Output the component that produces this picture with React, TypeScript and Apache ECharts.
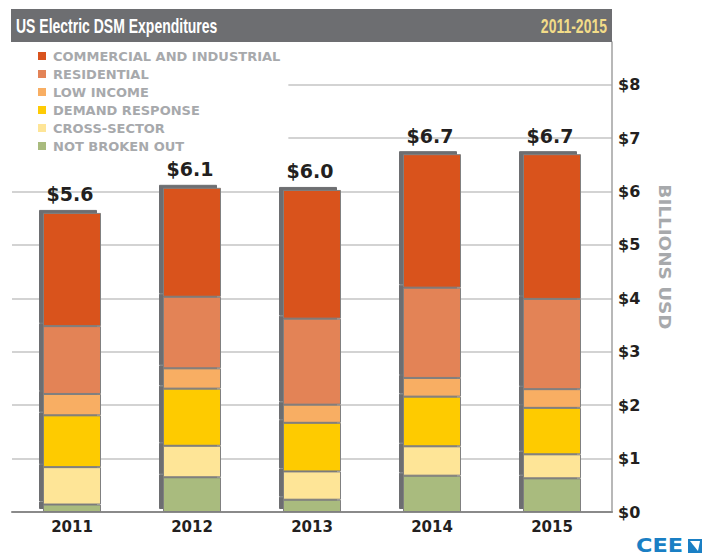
import React, { useEffect, useRef } from "react";
import * as echarts from "echarts";

const years = ["2011", "2012", "2013", "2014", "2015"];
const notBrokenOut = [0.14, 0.65, 0.23, 0.68, 0.63];
const crossSector = [0.7, 0.59, 0.53, 0.55, 0.45];
const demandResponse = [0.97, 1.07, 0.91, 0.93, 0.87];
const lowIncome = [0.4, 0.38, 0.34, 0.35, 0.35];
const residential = [1.27, 1.34, 1.61, 1.69, 1.69];
const commercialIndustrial = [2.12, 2.04, 2.41, 2.5, 2.71];
const totalLabels = ["$5.6", "$6.1", "$6.0", "$6.7", "$6.7"];

const seriesDefs = [
  { name: "NOT BROKEN OUT", data: notBrokenOut, color: "#a9bb7e" },
  { name: "CROSS-SECTOR", data: crossSector, color: "#fee597" },
  { name: "DEMAND RESPONSE", data: demandResponse, color: "#fecb05" },
  { name: "LOW INCOME", data: lowIncome, color: "#f8ae63" },
  { name: "RESIDENTIAL", data: residential, color: "#e38357" },
  { name: "COMMERCIAL AND INDUSTRIAL", data: commercialIndustrial, color: "#d9531e" },
];

const titleText = "US Electric DSM Expenditures";
const periodText = "2011-2015";
const axisTitle = "BILLIONS USD";

const BOLD = "'DejaVu Sans', 'Noto Sans', sans-serif";
const TITLE_FONT = "'Liberation Sans', Arial, sans-serif";

export default function App() {
  const ref = useRef<HTMLDivElement>(null);
  useEffect(() => {
    if (!ref.current) return;
    const chart = echarts.init(ref.current, undefined, { renderer: "svg" });
    const series: any[] = seriesDefs.map((s, i) => ({
      name: s.name,
      type: "bar",
      stack: "total",
      data: s.data,
      barWidth: 58,
      itemStyle: {
        color: s.color,
        borderColor: "#808080",
        borderWidth: 1,
        shadowColor: "#6d6e71",
        shadowBlur: 0,
        shadowOffsetX: -4,
        shadowOffsetY: -3,
      },
      label:
        i === seriesDefs.length - 1
          ? {
              show: true,
              position: "top",
              distance: 9,
              offset: [-2, 0],
              formatter: (p: any) => totalLabels[p.dataIndex],
              color: "#231f20",
              fontFamily: BOLD,
              fontWeight: "bold",
              fontSize: 19,
            }
          : { show: false },
      emphasis: { disabled: true },
    }));

    chart.setOption({
      animation: false,
      grid: { left: 12, right: 91, top: 42, bottom: 44, containLabel: false },
      legend: {
        orient: "vertical",
        left: 12,
        top: 45,
        padding: [4, 8, 4, 26],
        backgroundColor: "#ffffff",
        itemWidth: 8,
        itemHeight: 8,
        itemGap: 4,
        icon: "rect",
        itemStyle: { borderWidth: 0, shadowBlur: 0, shadowOffsetX: 0, shadowOffsetY: 0 },
        data: seriesDefs.map((s) => s.name).reverse(),
        selectedMode: false,
        textStyle: {
          color: "#a7a9ac",
          fontFamily: BOLD,
          fontWeight: "bold",
          fontSize: 13,
          lineHeight: 14,
          padding: [0, 0, 0, 2],
        },
      },
      xAxis: {
        type: "category",
        data: years,
        axisTick: { show: false },
        axisLine: { lineStyle: { color: "#8a8a8a", width: 2 } },
        axisLabel: {
          color: "#231f20",
          fontFamily: BOLD,
          fontWeight: "bold",
          fontSize: 15,
          margin: 7,
          offset: [-2, 0],
        },
      },
      yAxis: {
        type: "value",
        position: "right",
        min: 0,
        max: 8.8,
        interval: 1,
        axisLine: { show: true, lineStyle: { color: "#a0a0a0", width: 1.5 } },
        axisTick: { show: false },
        splitLine: { show: true, showMaxLine: false, lineStyle: { color: "#c4c4c4", width: 1.5 } },
        axisLabel: {
          showMaxLabel: false,
          margin: 6,
          color: "#231f20",
          fontFamily: BOLD,
          fontWeight: "bold",
          fontSize: 16,
          padding: [0, 0, 5, 0],
          formatter: (v: number) => "$" + v,
        },
      },
      graphic: [
        {
          type: "rect",
          z: 100,
          shape: { x: 11, y: 9, width: 601, height: 33 },
          style: { fill: "#6d6e71" },
        },
        {
          type: "text",
          z: 101,
          x: 16,
          y: 26,
          scaleX: 0.7,
          style: {
            text: titleText,
            fill: "#ffffff",
            font: `bold 20px ${TITLE_FONT}`,
            textAlign: "left",
            textVerticalAlign: "middle",
          },
        },
        {
          type: "text",
          z: 101,
          x: 607,
          y: 26,
          scaleX: 0.7,
          style: {
            text: periodText,
            fill: "#f2dc88",
            font: `bold 20px ${TITLE_FONT}`,
            textAlign: "right",
            textVerticalAlign: "middle",
          },
        },
        {
          type: "text",
          z: 101,
          x: 665,
          y: 257,
          rotation: -Math.PI / 2,
          scaleX: 1.15,
          style: {
            text: axisTitle,
            fill: "#a7a9ac",
            font: `bold 16px ${BOLD}`,
            textAlign: "center",
            textVerticalAlign: "middle",
          },
        },
        {
          type: "text",
          z: 101,
          x: 636,
          y: 545,
          scaleX: 1.12,
          style: {
            text: "CEE",
            fill: "#1a7fc4",
            font: `bold 20px ${BOLD}`,
            textAlign: "left",
            textVerticalAlign: "middle",
          },
        },
        {
          type: "polygon",
          z: 101,
          shape: { points: [[688, 539], [702, 539], [702, 553], [688, 553]] },
          style: { fill: "#1a7fc4" },
        },
        {
          type: "polygon",
          z: 102,
          shape: { points: [[690, 541], [700, 541], [698, 551]] },
          style: { fill: "#ffffff" },
        },
      ],
      series,
    });
    return () => chart.dispose();
  }, []);
  return (
    <div
      ref={ref}
      style={{ position: "absolute", left: 0, top: 0, width: 703, height: 556 }}
    />
  );
}
